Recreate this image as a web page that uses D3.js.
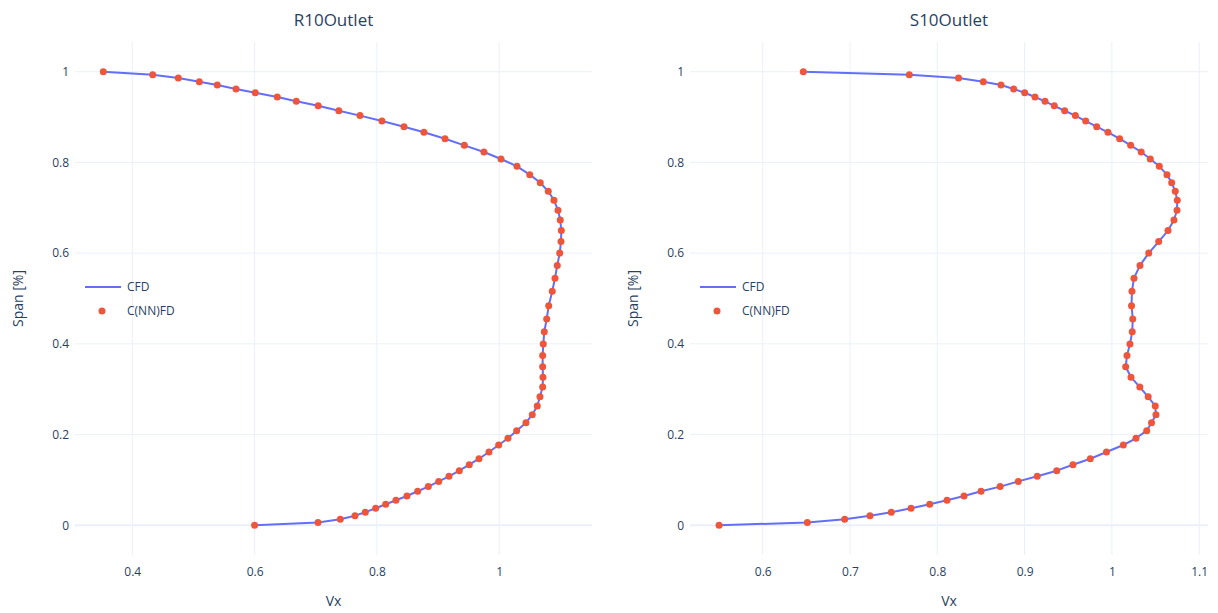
<!DOCTYPE html>
<html>
<head>
<meta charset="utf-8">
<script src="https://cdn.jsdelivr.net/npm/d3@7"></script>
<style>
  html, body { margin: 0; padding: 0; background: #fff; }
  svg { display: block; font-family: "Open Sans", "Noto Sans", sans-serif; }
</style>
</head>
<body>
<svg id="chart" width="1218" height="613"></svg>
<script>
// ---- data ----
const panelTitles = ["R10Outlet", "S10Outlet"];
const seriesNames = ["CFD", "C(NN)FD"];
const span = [0, 0.0062, 0.0134, 0.0212, 0.0289, 0.0375, 0.0463, 0.0553, 0.0646, 0.075,
  0.0853, 0.0968, 0.108, 0.1204, 0.1336, 0.1468, 0.1616, 0.177, 0.1918, 0.2086,
  0.2262, 0.2438, 0.263, 0.2833, 0.3047, 0.3265, 0.3494, 0.3741, 0.3997, 0.4266,
  0.4548, 0.4841, 0.5161, 0.5448, 0.573, 0.6001, 0.6254, 0.6497, 0.6731, 0.6947,
  0.7165, 0.7363, 0.7553, 0.7731, 0.7914, 0.8075, 0.823, 0.8377, 0.8523, 0.8664,
  0.8788, 0.8913, 0.9032, 0.914, 0.9248, 0.9347, 0.9442, 0.9537, 0.9618, 0.9707,
  0.978, 0.9861, 0.9934, 1.0];
const r10Vx = [0.6, 0.7037, 0.7401, 0.7642, 0.781, 0.798, 0.8144, 0.8312, 0.8492, 0.8667,
  0.8841, 0.9011, 0.9179, 0.9348, 0.9511, 0.967, 0.9833, 0.9992, 1.0144, 1.0286,
  1.0438, 1.0541, 1.0623, 1.0667, 1.0711, 1.0716, 1.0711, 1.0711, 1.0721, 1.0738,
  1.0777, 1.081, 1.0868, 1.0913, 1.095, 1.099, 1.1011, 1.1016, 1.0999, 1.0962,
  1.0896, 1.0803, 1.0672, 1.05, 1.0291, 1.003, 0.9751, 0.943, 0.9114, 0.877,
  0.8443, 0.8083, 0.7724, 0.7377, 0.704, 0.6682, 0.6371, 0.6011, 0.5696, 0.539,
  0.5096, 0.4752, 0.4334, 0.3526];
const s10Vx = [0.55, 0.6511, 0.6939, 0.7229, 0.7473, 0.7699, 0.7913, 0.8111, 0.8306, 0.8501,
  0.872, 0.8928, 0.9145, 0.9368, 0.9554, 0.9753, 0.9938, 1.0131, 1.0276, 1.0399,
  1.0454, 1.0505, 1.0497, 1.0416, 1.032, 1.0219, 1.0158, 1.0173, 1.0207, 1.0233,
  1.0239, 1.0225, 1.023, 1.0253, 1.0322, 1.0422, 1.0536, 1.0643, 1.0711, 1.0746,
  1.0749, 1.0726, 1.0685, 1.0631, 1.0543, 1.044, 1.0336, 1.0215, 1.0089, 0.9955,
  0.9826, 0.97, 0.9581, 0.9459, 0.934, 0.9234, 0.9119, 0.9001, 0.8875, 0.873,
  0.8527, 0.8243, 0.7679, 0.6465];
const r10XTicks = [0.4, 0.6, 0.8, 1];
const s10XTicks = [0.6, 0.7, 0.8, 0.9, 1, 1.1];
const yTicks = [0, 0.2, 0.4, 0.6, 0.8, 1];
const r10XDomain = [0.3063, 1.1518];
const s10XDomain = [0.5167, 1.1101];
const yDomain = [-0.0655, 1.0655];

// ---- layout ----
const panels = [
  { title: panelTitles[0], vx: r10Vx, xTicks: r10XTicks, xDomain: r10XDomain, left: 75, right: 592 },
  { title: panelTitles[1], vx: s10Vx, xTicks: s10XTicks, xDomain: s10XDomain, left: 690, right: 1208 }
];
const plotTop = 42, plotBottom = 555;
const textColor = "#2a3f5f", gridColor = "#ebf0f8";
const lineColor = "#636efa", markerColor = "#ef553b";
const fmt = d3.format("~g");

const svg = d3.select("#chart");

panels.forEach(p => {
  const x = d3.scaleLinear().domain(p.xDomain).range([p.left, p.right]);
  const y = d3.scaleLinear().domain(yDomain).range([plotBottom, plotTop]);
  const g = svg.append("g");

  // vertical grid
  g.append("g").selectAll("line").data(p.xTicks).join("line")
    .attr("x1", d => x(d)).attr("x2", d => x(d))
    .attr("y1", plotTop).attr("y2", plotBottom)
    .attr("stroke", gridColor).attr("stroke-width", 1);
  // horizontal grid
  g.append("g").selectAll("line").data(yTicks).join("line")
    .attr("x1", p.left).attr("x2", p.right)
    .attr("y1", d => y(d)).attr("y2", d => y(d))
    .attr("stroke", gridColor).attr("stroke-width", d => d === 0 ? 2 : 1);

  // axes (labels only)
  const xAxis = g.append("g").attr("transform", `translate(0,${plotBottom + 4})`)
    .call(d3.axisBottom(x).tickValues(p.xTicks).tickFormat(fmt).tickSize(0).tickPadding(8));
  const yAxis = g.append("g").attr("transform", `translate(${p.left - 3},0)`)
    .call(d3.axisLeft(y).tickValues(yTicks).tickFormat(fmt).tickSize(0).tickPadding(3));
  [xAxis, yAxis].forEach(a => {
    a.select(".domain").remove();
    a.selectAll("text").attr("fill", textColor).style("font-size", "12px")
      .style("font-family", '"Open Sans", sans-serif');
  });

  // line
  const pts = span.map((s, i) => [p.vx[i], s]);
  g.append("path").datum(pts)
    .attr("fill", "none").attr("stroke", lineColor).attr("stroke-width", 2)
    .attr("stroke-linejoin", "round")
    .attr("d", d3.line().x(d => x(d[0])).y(d => y(d[1])));
  // markers
  g.append("g").selectAll("circle").data(pts).join("circle")
    .attr("cx", d => x(d[0])).attr("cy", d => y(d[1])).attr("r", 3.5)
    .attr("fill", markerColor);

  // titles
  g.append("text").attr("x", (p.left + p.right) / 2).attr("y", 26)
    .attr("text-anchor", "middle").attr("fill", textColor).style("font-size", "17px")
    .text(p.title);
  g.append("text").attr("x", (p.left + p.right) / 2).attr("y", 606)
    .attr("text-anchor", "middle").attr("fill", textColor).style("font-size", "14px")
    .text("Vx");
  g.append("text")
    .attr("transform", `translate(${p.left - 52},${(plotTop + plotBottom) / 2}) rotate(-90)`)
    .attr("text-anchor", "middle").attr("fill", textColor).style("font-size", "14px")
    .text("Span [%]");

  // legend
  const lg = g.append("g").attr("transform", `translate(${p.left + 10},287)`);
  lg.append("line").attr("x1", 0).attr("x2", 36).attr("y1", 0).attr("y2", 0)
    .attr("stroke", lineColor).attr("stroke-width", 2);
  lg.append("text").attr("x", 42).attr("y", 0).attr("dy", "0.35em")
    .attr("fill", textColor).style("font-size", "12px").text(seriesNames[0]);
  lg.append("circle").attr("cx", 17).attr("cy", 24).attr("r", 3.5).attr("fill", markerColor);
  lg.append("text").attr("x", 42).attr("y", 24).attr("dy", "0.35em")
    .attr("fill", textColor).style("font-size", "12px").text(seriesNames[1]);
});
</script>
</body>
</html>
